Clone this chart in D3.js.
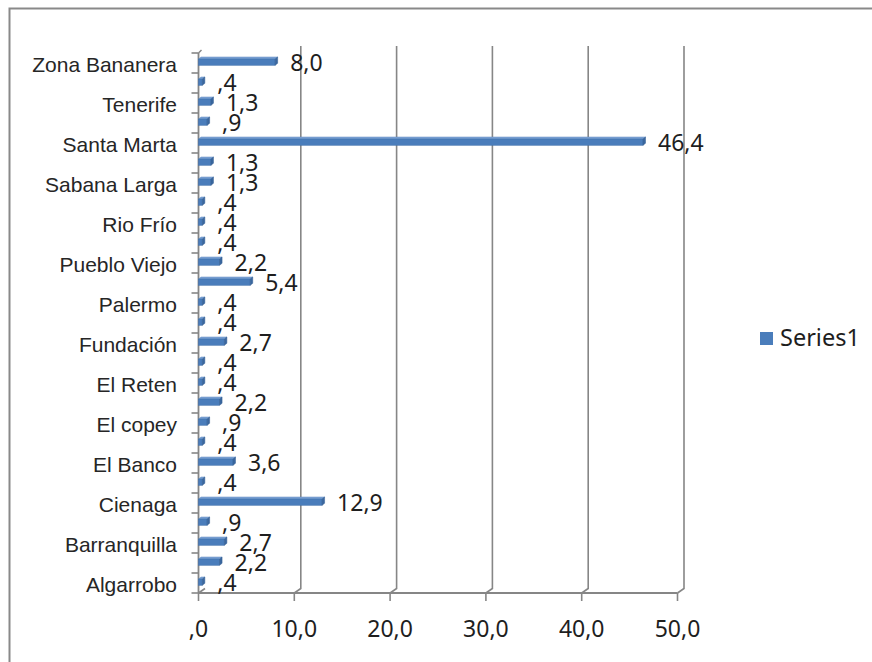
<!DOCTYPE html>
<html>
<head>
<meta charset="utf-8">
<script src="https://cdn.jsdelivr.net/npm/d3@7"></script>
<style>
html,body{margin:0;padding:0;background:#fff;}
svg{display:block;}
</style>
</head>
<body>
<svg id="chart" width="872" height="662"></svg>
<script>
// Categories, bottom to top (as drawn); only every other label is shown
const categories = ["Algarrobo","Aracataca","Barranquilla","Bogotá","Cienaga","Concordia","El Banco","El Carmen","El copey","El Difícil","El Reten","Fonseca","Fundación","Guamal","Palermo","Plato","Pueblo Viejo","Remolino","Rio Frío","Riohacha","Sabana Larga","Salamina","Santa Marta","Sitionuevo","Tenerife","Valledupar","Zona Bananera"];
const values = [0.4,2.2,2.7,0.9,12.9,0.4,3.6,0.4,0.9,2.2,0.4,0.4,2.7,0.4,0.4,5.4,2.2,0.4,0.4,0.4,1.3,1.3,46.4,0.9,1.3,0.4,8.0];
const tickValues = [0,10,20,30,40,50];
const tickLabels = [",0","10,0","20,0","30,0","40,0","50,0"];
const seriesName = "Series1";

const svg = d3.select("#chart");
const fmt = v => { let s = d3.format(".1f")(v).replace(".", ","); if (s.startsWith("0")) s = s.slice(1); return s; };

const x = d3.scaleLinear().domain([0,50]).range([198.5,677.5]);
const y = d3.scaleBand().domain(categories).range([593,53]).paddingInner(0).paddingOuter(0);
const depthX = 6.5, depthY = 4.5;
const gridTop = 46;
const axisY = 593;
const gridColor = "#868686";
const numFont = "'Noto Sans', 'Open Sans', sans-serif";

// outer border
svg.append("rect").attr("x",9.5).attr("y",8.5).attr("width",880).attr("height",680)
  .attr("fill","none").attr("stroke","#898989").attr("stroke-width",2);

// back wall gridlines with floor diagonals
const grid = svg.append("g").attr("stroke",gridColor).attr("stroke-width",1.6).attr("fill","none");
tickValues.forEach(v => {
  const xb = x(v) + depthX;
  if (v > 0) {
    grid.append("path").attr("d", `M${xb},${gridTop} L${xb},${axisY-depthY} L${x(v)},${axisY}`);
  } else {
    grid.append("path").attr("d", `M${xb},${axisY-depthY} L${x(v)},${axisY}`);
  }
});

// left (category) axis line
svg.append("path").attr("d", `M${x(0)},${y.range()[1]} L${x(0)},${axisY}`)
  .attr("stroke",gridColor).attr("stroke-width",1.8).attr("fill","none");
svg.append("path").attr("d", `M${x(0)},${y.range()[1]} L${x(0)+3},${y.range()[1]-3}`)
  .attr("stroke",gridColor).attr("stroke-width",1.4).attr("fill","none");
// category tick marks at band boundaries
const bounds = categories.map(c => y(c)).concat([axisY]);
svg.append("g").selectAll("line").data(bounds).join("line")
  .attr("x1", x(0)-7).attr("x2", x(0)).attr("y1", d => d).attr("y2", d => d)
  .attr("stroke", gridColor).attr("stroke-width", 1.6);

// bottom (value) axis
svg.append("path").attr("d", `M${x(0)},${axisY} L${x(50)},${axisY}`)
  .attr("stroke",gridColor).attr("stroke-width",1.8).attr("fill","none");
svg.append("g").selectAll("line").data(tickValues).join("line")
  .attr("x1", d => x(d)).attr("x2", d => x(d)).attr("y1", axisY).attr("y2", axisY+8)
  .attr("stroke", gridColor).attr("stroke-width", 1.6);
svg.append("g").selectAll("text").data(tickValues).join("text")
  .attr("x", d => x(d)).attr("y", 637).attr("text-anchor","middle")
  .attr("font-family",numFont).attr("font-size",23).attr("fill","#1e1e1e")
  .text((d,i) => tickLabels[i]);

// category labels (every other)
svg.append("g").selectAll("text").data(categories.filter((c,i) => i % 2 === 0)).join("text")
  .attr("x", 177).attr("y", d => y(d) + y.bandwidth()/2 + 9).attr("text-anchor","end")
  .attr("font-family","'Liberation Sans', Arial, sans-serif").attr("font-size",21).attr("fill","#262626")
  .text(d => d);

// 3D bars
const bars = svg.append("g");
const bx = 2.5, by = 2;
categories.forEach((c,i) => {
  const v = values[i];
  const cy = y(c) + y.bandwidth()/2;
  const x0 = x(0), x1 = x(v);
  const t = cy - 4, b = cy + 2.3;
  // top face
  bars.append("path").attr("d", `M${x0},${t} L${x1},${t} L${x1+bx},${t-by} L${x0+bx},${t-by} Z`)
    .attr("fill","#7fa4d6").attr("stroke","#5b86bf").attr("stroke-width",0.5);
  // front face
  bars.append("rect").attr("x",x0).attr("y",t).attr("width",Math.max(0,x1-x0)).attr("height",b-t)
    .attr("fill","#4a7dbb").attr("stroke","#3f6fa9").attr("stroke-width",0.5);
  // end face
  bars.append("path").attr("d", `M${x1},${t} L${x1+bx},${t-by} L${x1+bx},${b-by} L${x1},${b} Z`)
    .attr("fill","#3a679f").attr("stroke","#335d91").attr("stroke-width",0.5);
});

// value labels
svg.append("g").selectAll("text").data(categories).join("text")
  .attr("x", (d,i) => x(values[i]) + 15)
  .attr("y", d => y(d) + y.bandwidth()/2 + 8)
  .attr("font-family",numFont).attr("font-size",23).attr("fill","#1e1e1e")
  .text((d,i) => fmt(values[i]));

// legend
svg.append("rect").attr("x",760).attr("y",332).attr("width",13).attr("height",13).attr("fill","#4a7dbb");
svg.append("text").attr("x",780).attr("y",346).attr("font-family",numFont)
  .attr("font-size",23.5).attr("fill","#1e1e1e").text(seriesName);
</script>
</body>
</html>
